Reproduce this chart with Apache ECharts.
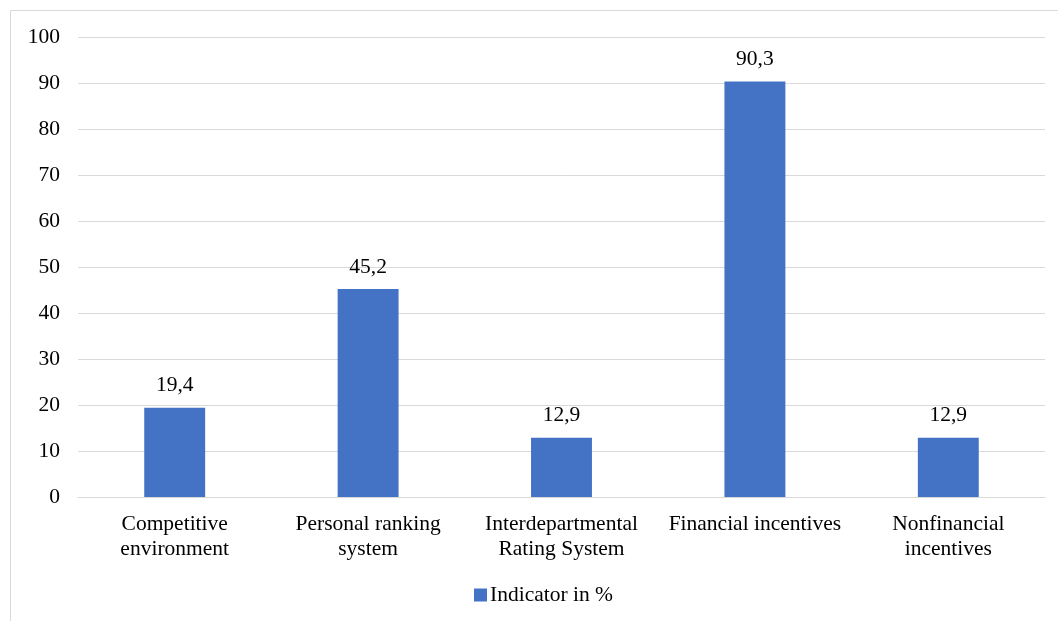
<!DOCTYPE html>
<html><head><meta charset="utf-8">
<script src="https://cdn.jsdelivr.net/npm/echarts@6/dist/echarts.min.js"></script>
<style>html,body{margin:0;padding:0;background:#fff}#c{width:1058px;height:621px}</style>
</head><body><div id="c"></div>
<script>
const categories = ["Competitive\nenvironment", "Personal ranking\nsystem", "Interdepartmental\nRating System", "Financial incentives", "Nonfinancial\nincentives"];
const values = [19.4, 45.2, 12.9, 90.3, 12.9];
const seriesName = "Indicator in %";
const yTicks = {min: 0, max: 100, interval: 10};

const font = "'Liberation Serif', 'Times New Roman', serif";
const fs = 21.5;
const chart = echarts.init(document.getElementById('c'));
chart.setOption({
  animation: false,
  textStyle: {fontFamily: font},
  graphic: [{type: 'rect', shape: {x: 10.5, y: 10.5, width: 1100, height: 700}, style: {fill: 'none', stroke: '#d9d9d9', lineWidth: 1}, silent: true}],
  grid: {left: 78, right: 13, top: 37, bottom: 124, containLabel: false},
  legend: {bottom: 10, left: 469, itemWidth: 13, itemHeight: 13, itemGap: 4, icon: 'rect',
    textStyle: {fontFamily: font, fontSize: fs, color: '#000', padding: [0, 0, 0, -2]}, data: [seriesName]},
  xAxis: {type: 'category', data: categories,
    axisLine: {lineStyle: {color: '#d9d9d9', width: 1}}, axisTick: {show: false},
    axisLabel: {fontFamily: font, fontSize: fs, color: '#000', lineHeight: 25, margin: 15, interval: 0}},
  yAxis: {type: 'value', min: yTicks.min, max: yTicks.max, interval: yTicks.interval,
    axisLine: {show: false}, axisTick: {show: false},
    splitLine: {lineStyle: {color: '#d9d9d9', width: 1}},
    axisLabel: {fontFamily: font, fontSize: fs, color: '#000', margin: 18}},
  series: [{name: seriesName, type: 'bar', data: values, barWidth: '31.5%',
    itemStyle: {color: '#4472C4'},
    label: {show: true, position: 'top', distance: 11, fontFamily: font, fontSize: fs, color: '#000',
      formatter: p => String(p.value).replace('.', ',')}}]
});
</script></body></html>
